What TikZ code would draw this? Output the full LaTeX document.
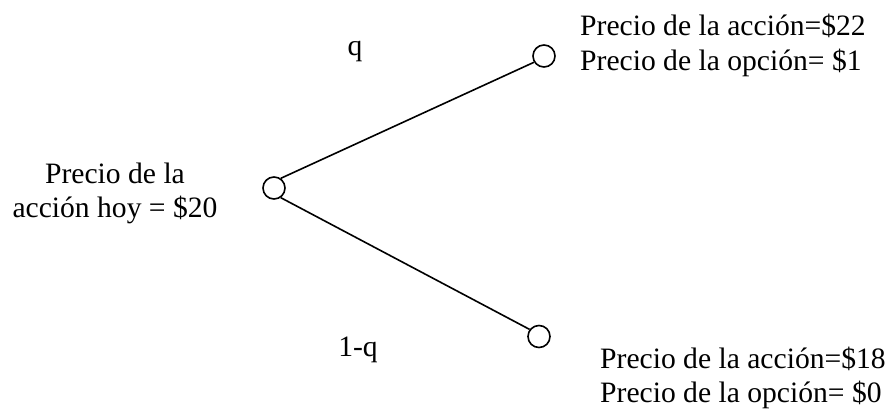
\documentclass[tikz,border=0pt]{standalone}
\usepackage{fontspec}
\setmainfont{Liberation Serif}
\begin{document}
\begin{tikzpicture}[x=1pt,y=-1pt,
  txt/.style={inner sep=0pt, font=\fontsize{29.6}{34}\selectfont},
  st/.style={circle, draw, line width=1.6pt, minimum size=22pt, inner sep=0pt},
  br/.style={line width=1.6pt}]
\useasboundingbox (0,0) rectangle (888,410);
\node[st] (L) at (274,188) {};
\node[st] (T) at (544,56) {};
\node[st] (B) at (539,336.5) {};
\draw[br] (L.55) -- (T.212);
\draw[br] (L.-55) -- (B.143);
\node[txt, anchor=base] (q) at (355,55) {q};
\node[txt, anchor=base] (q1) at (358,356) {1-q};
\node[txt, anchor=base] (l1) at (115,183) {Precio de la};
\node[txt, anchor=base] (l2) at (115,217) {acción hoy = \$20};
\node[txt, anchor=base west] (t1) at (580,35) {Precio de la acción=\$22};
\node[txt, anchor=base west] (t2) at (580,70) {Precio de la opción= \$1};
\node[txt, anchor=base west] (b1) at (600,368) {Precio de la acción=\$18};
\node[txt, anchor=base west] (b2) at (600,402) {Precio de la opción= \$0};
\end{tikzpicture}
\end{document}
